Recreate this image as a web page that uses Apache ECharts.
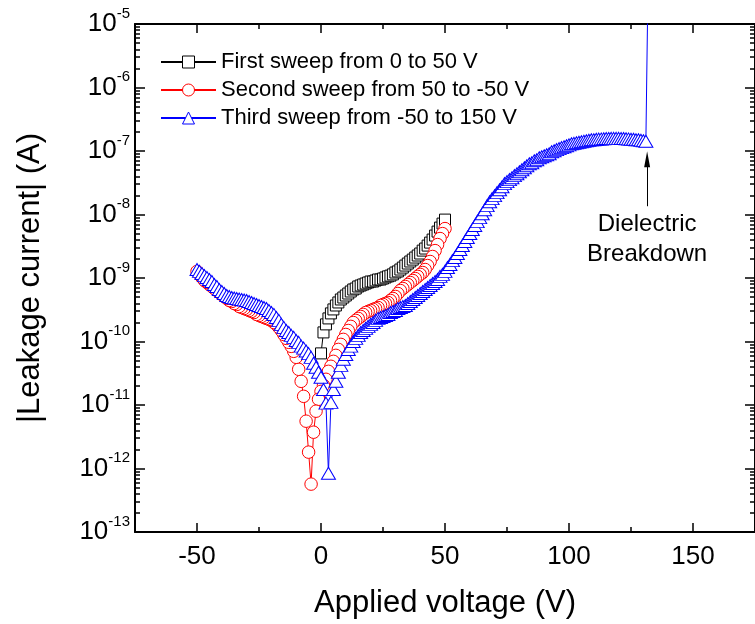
<!DOCTYPE html>
<html>
<head>
<meta charset="utf-8">
<script src="https://cdn.jsdelivr.net/npm/echarts@6/dist/echarts.min.js"></script>
<style>
html,body{margin:0;padding:0;background:#ffffff;}
#chart{width:755px;height:624px;}
</style>
</head>
<body>
<div id="chart"></div>
<script>
// ---------------- data ----------------
const seriesNames = ['First sweep from 0 to 50 V', 'Second sweep from 50 to -50 V', 'Third sweep from -50 to 150 V'];

const sweep1Voltage = [0,1,2,3,4,5,6,7,8,9,10,11,12,13,14,15,16,17,18,19,20,21,22,23,24,25,26,27,28,29,30,31,32,33,34,35,36,37,38,39,40,41,42,43,44,45,46,47,48,49,50];
const sweep1Current = [
  6.5e-11,1.39e-10,1.86e-10,2.31e-10,2.77e-10,3.20e-10,3.69e-10,4.12e-10,4.59e-10,4.93e-10,
  5.30e-10,5.70e-10,6.13e-10,6.59e-10,6.83e-10,7.35e-10,7.62e-10,7.90e-10,8.19e-10,8.49e-10,
  8.80e-10,8.80e-10,9.13e-10,9.47e-10,9.47e-10,9.81e-10,1.02e-9,1.06e-9,1.09e-9,1.14e-9,
  1.22e-9,1.27e-9,1.36e-9,1.46e-9,1.57e-9,1.69e-9,1.82e-9,1.95e-9,2.10e-9,2.26e-9,
  2.43e-9,2.70e-9,2.91e-9,3.24e-9,3.61e-9,4.03e-9,4.66e-9,5.38e-9,6.22e-9,7.19e-9,8.31e-9];

const sweep2Voltage = [50,49,48,47,46,45,44,43,42,41,40,39,38,37,36,35,34,33,32,31,30,29,28,27,26,25,24,23,22,21,20,19,18,17,16,15,14,13,12,11,10,9,8,7,6,5,4,3,2,1,0,-1,-2,-3,-4,-5,-6,-7,-8,-9,-10,-11,-12,-13,-14,-15,-16,-17,-18,-19,-20,-21,-22,-23,-24,-25,-26,-27,-28,-29,-30,-31,-32,-33,-34,-35,-36,-37,-38,-39,-40,-41,-42,-43,-44,-45,-46,-47,-48,-49,-50];
const sweep2Current = [
  6.0e-9,5.0e-9,4.18e-9,3.36e-9,2.70e-9,2.18e-9,1.82e-9,1.57e-9,1.36e-9,1.22e-9,
  1.14e-9,1.06e-9,9.8e-10,9.13e-10,8.49e-10,7.90e-10,7.35e-10,6.83e-10,6.35e-10,5.70e-10,
  5.12e-10,4.76e-10,4.43e-10,4.12e-10,3.97e-10,3.83e-10,3.69e-10,3.43e-10,3.31e-10,3.20e-10,
  3.08e-10,2.97e-10,2.86e-10,2.67e-10,2.48e-10,2.31e-10,2.15e-10,1.99e-10,1.73e-10,1.49e-10,
  1.29e-10,1.08e-10,9.0e-11,7.5e-11,6.05e-11,4.87e-11,4.07e-11,3.39e-11,2.54e-11,2.04e-11,
  1.64e-11,1.23e-11,7.99e-12,3.73e-12,5.68e-13,1.81e-12,5.56e-12,1.37e-11,2.36e-11,3.65e-11,
  5.63e-11,7.0e-11,8.38e-11,9.7e-11,1.12e-10,1.29e-10,1.49e-10,1.67e-10,1.86e-10,1.99e-10,
  2.15e-10,2.23e-10,2.31e-10,2.39e-10,2.48e-10,2.57e-10,2.67e-10,2.86e-10,2.97e-10,3.08e-10,
  3.20e-10,3.31e-10,3.43e-10,3.56e-10,3.83e-10,3.97e-10,4.27e-10,4.43e-10,4.76e-10,5.12e-10,
  5.50e-10,5.91e-10,6.35e-10,6.83e-10,7.35e-10,7.90e-10,8.49e-10,9.13e-10,1.02e-9,1.14e-9,
  1.27e-9];

const sweep3Voltage = [-50,-49,-48,-47,-46,-45,-44,-43,-42,-41,-40,-39,-38,-37,-36,-35,-34,-33,-32,-31,-30,-29,-28,-27,-26,-25,-24,-23,-22,-21,-20,-19,-18,-17,-16,-15,-14,-13,-12,-11,-10,-9,-8,-7,-6,-5,-4,-3,-2,-1,0,1,2,3,4,5,6,7,8,9,10,11,12,13,14,15,16,17,18,19,20,21,22,23,24,25,26,27,28,29,30,31,32,33,34,35,36,37,38,39,40,41,42,43,44,45,46,47,48,49,50,51,52,53,54,55,56,57,58,59,60,61,62,63,64,65,66,67,68,69,70,71,72,73,74,75,76,77,78,79,80,81,82,83,84,85,86,87,88,89,90,91,92,93,94,95,96,97,98,99,100,101,102,103,104,105,106,107,108,109,110,111,112,113,114,115,116,117,118,119,120,121,122,123,124,125,126,127,128,129,130,131,132];
const sweep3Current = [
  1.36e-9,1.27e-9,1.18e-9,1.09e-9,1.02e-9,9.47e-10,8.80e-10,7.90e-10,7.35e-10,6.59e-10,
  6.13e-10,5.70e-10,5.30e-10,5.12e-10,4.93e-10,4.85e-10,4.76e-10,4.67e-10,4.59e-10,4.51e-10,
  4.43e-10,4.27e-10,4.12e-10,3.97e-10,3.83e-10,3.69e-10,3.56e-10,3.43e-10,3.31e-10,3.08e-10,
  2.86e-10,2.67e-10,2.39e-10,2.15e-10,1.86e-10,1.67e-10,1.49e-10,1.39e-10,1.25e-10,1.16e-10,
  1.04e-10,9.7e-11,8.46e-11,7.87e-11,7.1e-11,6.45e-11,5.63e-11,4.53e-11,3.93e-11,3.27e-11,
  2.73e-11,1.75e-11,1.07e-11,8.4e-13,1.10e-11,1.75e-11,2.36e-11,3.27e-11,4.21e-11,5.27e-11,
  6.25e-11,7.5e-11,8.46e-11,1.00e-10,1.12e-10,1.25e-10,1.39e-10,1.49e-10,1.61e-10,1.73e-10,
  1.86e-10,1.99e-10,2.15e-10,2.31e-10,2.39e-10,2.48e-10,2.57e-10,2.67e-10,2.86e-10,2.97e-10,
  3.08e-10,3.31e-10,3.43e-10,3.56e-10,3.69e-10,3.97e-10,4.27e-10,4.59e-10,4.93e-10,5.30e-10,
  5.70e-10,6.13e-10,6.59e-10,7.08e-10,7.62e-10,8.19e-10,8.80e-10,9.47e-10,1.06e-9,1.14e-9,
  1.27e-9,1.46e-9,1.63e-9,1.88e-9,2.10e-9,2.43e-9,2.81e-9,3.24e-9,3.75e-9,4.33e-9,
  5.01e-9,5.79e-9,6.69e-9,7.73e-9,8.93e-9,1.03e-8,1.19e-8,1.38e-8,1.59e-8,1.78e-8,
  1.98e-8,2.21e-8,2.46e-8,2.74e-8,3.06e-8,3.29e-8,3.54e-8,3.80e-8,4.09e-8,4.39e-8,
  4.72e-8,5.08e-8,5.46e-8,5.87e-8,6.31e-8,6.54e-8,7.03e-8,7.29e-8,7.84e-8,8.13e-8,
  8.43e-8,8.74e-8,9.06e-8,9.74e-8,1.01e-7,1.05e-7,1.09e-7,1.13e-7,1.17e-7,1.21e-7,
  1.25e-7,1.30e-7,1.32e-7,1.35e-7,1.37e-7,1.40e-7,1.42e-7,1.45e-7,1.48e-7,1.50e-7,
  1.50e-7,1.53e-7,1.54e-7,1.55e-7,1.56e-7,1.57e-7,1.57e-7,1.58e-7,1.58e-7,1.58e-7,
  1.58e-7,1.57e-7,1.57e-7,1.56e-7,1.55e-7,1.53e-7,1.53e-7,1.50e-7,1.50e-7,1.48e-7,
  1.45e-7,1.42e-7,1.1e-4];

// annotation
const annotationText = 'Dielectric\nBreakdown';
const arrowVoltage = 131.5;
const arrowTailCurrent = 1.35e-8;
const arrowTipCurrent = 7.4e-8;

// axes / ticks
const xMin = -75, xMax = 175;
const xMajorTicks = [-50, 0, 50, 100, 150];
const xMinorTicks = [-25, 25, 75, 125];
const yMin = 1e-13, yMax = 1e-5;
const yMajorTicks = [1e-13, 1e-12, 1e-11, 1e-10, 1e-9, 1e-8, 1e-7, 1e-6, 1e-5];
const xAxisTitle = 'Applied voltage (V)';
const yAxisTitle = '|Leakage current| (A)';

// ---------------- chart ----------------
const FONT = '"Liberation Sans", Arial, Helvetica, sans-serif';
const yMinorTicks = [];
for (let k = 0; k < yMajorTicks.length - 1; k++) {
  for (let m = 2; m <= 9; m++) yMinorTicks.push(m * yMajorTicks[k]);
}
function pairs(v, c) { return v.map((x, i) => [x, c[i]]); }

const chart = echarts.init(document.getElementById('chart'), null, {renderer: 'canvas'});

const tickLine = {color: '#000', width: 1.5};
function xAxisBase(pos, ticks, len, showLine, extra) {
  return Object.assign({
    type: 'value', min: xMin, max: xMax, interval: 25, position: pos, gridIndex: 0,
    axisLine: {show: showLine, onZero: false, lineStyle: {color: '#000', width: 2}},
    axisTick: {show: true, inside: true, length: len, customValues: ticks, lineStyle: tickLine},
    axisLabel: {show: false},
    splitLine: {show: false}
  }, extra || {});
}
function yAxisBase(pos, ticks, len, showLine, extra) {
  return Object.assign({
    type: 'log', logBase: 10, min: yMin, max: yMax, position: pos, gridIndex: 0,
    axisLine: {show: showLine, onZero: false, lineStyle: {color: '#000', width: 2}},
    axisTick: {show: true, inside: true, length: len, customValues: ticks, lineStyle: tickLine},
    axisLabel: {show: false},
    splitLine: {show: false}
  }, extra || {});
}

const option = {
  animation: false,
  backgroundColor: '#ffffff',
  textStyle: {fontFamily: FONT, color: '#000'},
  grid: {left: 135, top: 24, right: -7.5, bottom: 91, containLabel: false},
  legend: {
    orient: 'vertical', left: 155, top: 46,
    itemWidth: 55, itemHeight: 15, itemGap: 6,
    selectedMode: false,
    textStyle: {fontSize: 22, color: '#000', fontFamily: FONT},
    itemStyle: {borderWidth: 1},
    data: seriesNames
  },
  xAxis: [
    xAxisBase('bottom', xMajorTicks, 9, true, {
      axisLabel: {show: true, customValues: xMajorTicks, fontSize: 26, color: '#000', fontFamily: FONT, margin: 12},
      name: xAxisTitle, nameLocation: 'middle', nameGap: 56,
      nameTextStyle: {fontSize: 31, color: '#000', fontFamily: FONT}
    }),
    xAxisBase('bottom', xMinorTicks, 5, false),
    xAxisBase('top', xMajorTicks, 9, true),
    xAxisBase('top', xMinorTicks, 5, false)
  ],
  yAxis: [
    yAxisBase('left', yMajorTicks, 10, true, {
      axisLabel: {
        show: true, customValues: yMajorTicks, margin: 5,
        formatter: function (v) { return '{a|10}{b|' + Math.round(Math.log10(v)) + '}'; },
        rich: {
          a: {fontSize: 26, fontFamily: FONT, color: '#000', lineHeight: 36},
          b: {fontSize: 15, fontFamily: FONT, color: '#000', lineHeight: 14, verticalAlign: 'top'}
        }
      },
      name: yAxisTitle, nameLocation: 'middle', nameGap: 89,
      nameTextStyle: {fontSize: 31, color: '#000', fontFamily: FONT}
    }),
    yAxisBase('left', yMinorTicks, 5, false),
    yAxisBase('right', yMajorTicks, 10, true),
    yAxisBase('right', yMinorTicks, 5, false)
  ],
  series: [
    {
      name: seriesNames[0], type: 'line', xAxisIndex: 0, yAxisIndex: 0,
      data: pairs(sweep1Voltage, sweep1Current),
      symbol: 'rect', symbolSize: 11, showAllSymbol: true, clip: true,
      lineStyle: {color: '#000', width: 1},
      itemStyle: {color: '#fff', borderColor: '#000', borderWidth: 1},
      emphasis: {disabled: true}, silent: true
    },
    {
      name: seriesNames[1], type: 'line', xAxisIndex: 0, yAxisIndex: 0,
      data: pairs(sweep2Voltage, sweep2Current),
      symbol: 'circle', symbolSize: 12.5, showAllSymbol: true, clip: true,
      lineStyle: {color: '#ff0000', width: 1},
      itemStyle: {color: '#fff', borderColor: '#ff0000', borderWidth: 1},
      emphasis: {disabled: true}, silent: true
    },
    {
      name: seriesNames[2], type: 'line', xAxisIndex: 0, yAxisIndex: 0,
      data: pairs(sweep3Voltage, sweep3Current),
      symbol: 'triangle', symbolSize: [14, 12], showAllSymbol: true, clip: true,
      lineStyle: {color: '#0000ff', width: 1},
      itemStyle: {color: '#fff', borderColor: '#0000ff', borderWidth: 1},
      emphasis: {disabled: true}, silent: true,
      markLine: {
        silent: true, animation: false,
        symbol: ['none', 'triangle'],
        symbolSize: [1, [6, 16]],
        itemStyle: {color: '#000'},
        lineStyle: {color: '#000', width: 1, type: 'solid'},
        label: {
          show: true, position: 'start', distance: 3,
          formatter: annotationText,
          fontSize: 24, lineHeight: 30, color: '#000', fontFamily: FONT, align: 'center'
        },
        emphasis: {disabled: true},
        data: [[
          {coord: [arrowVoltage, arrowTailCurrent], symbol: 'none'},
          {coord: [arrowVoltage, arrowTipCurrent], symbol: 'triangle', symbolSize: [6, 16], itemStyle: {color: '#000'}}
        ]]
      }
    }
  ]
};
chart.setOption(option);
</script>
</body>
</html>
